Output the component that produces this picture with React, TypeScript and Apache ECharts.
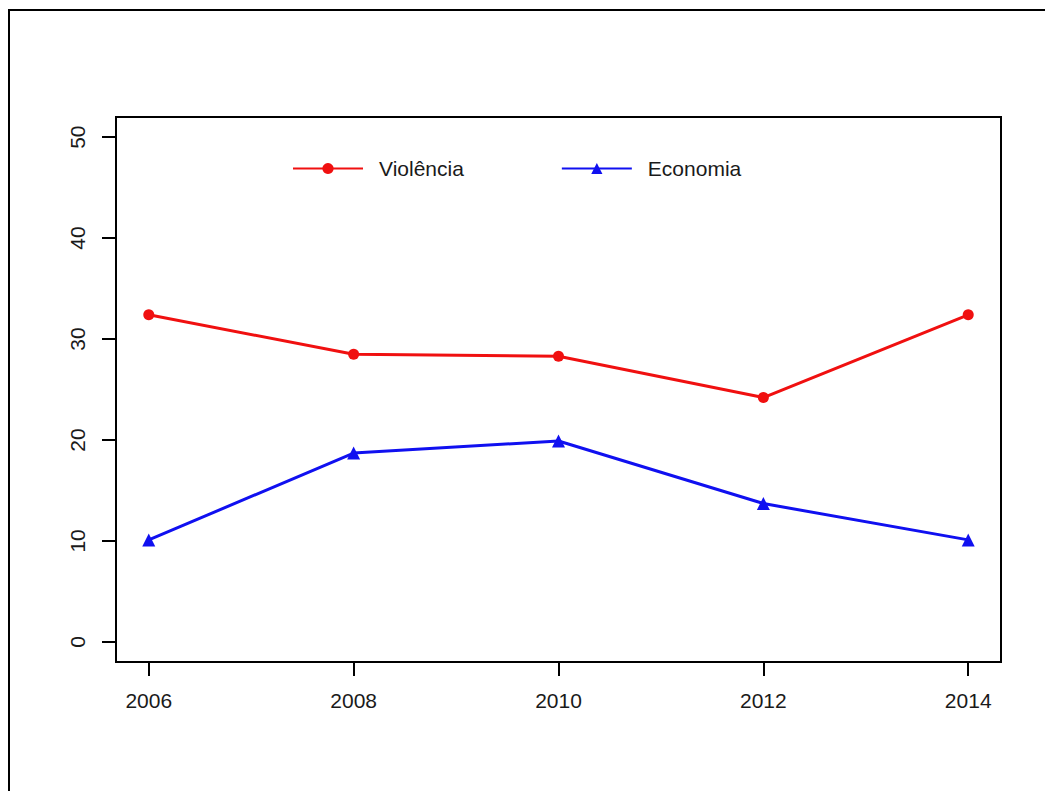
import React, { useEffect, useRef } from "react";
import * as echarts from "echarts";

const years = [2006, 2008, 2010, 2012, 2014];
const violencia = [32.4, 28.5, 28.3, 24.2, 32.4];
const economia = [10.1, 18.7, 19.9, 13.7, 10.1];
const yTicks = [0, 10, 20, 30, 40, 50];
const xTicks = [2006, 2008, 2010, 2012, 2014];
const seriesNames = ["Violência", "Economia"];

const FONT = "'Liberation Sans', Arial, sans-serif";

export default function App() {
  const ref = useRef<HTMLDivElement>(null);
  useEffect(() => {
    if (!ref.current) return;
    const chart = echarts.init(ref.current, null, { renderer: "svg" });
    const pairs = (vals: number[]) => years.map((y, i) => [y, vals[i]]);
    chart.setOption({
      animation: false,
      backgroundColor: "#ffffff",
      textStyle: { fontFamily: FONT },
      grid: {
        left: 116,
        top: 117,
        right: 44,
        bottom: 129,
        show: true,
        borderColor: "#000",
        borderWidth: 2,
        backgroundColor: "transparent",
      },
      legend: {
        left: 287,
        top: 153,
        padding: 5,
        itemWidth: 70,
        itemHeight: 14,
        itemGap: 97,
        data: seriesNames,
        textStyle: {
          fontFamily: FONT,
          fontSize: 21,
          color: "#1a1a1a",
          padding: [0, 0, 0, 11],
        },
      },
      xAxis: {
        type: "value",
        min: 2005.68,
        max: 2014.32,
        splitLine: { show: false },
        axisLine: { show: false, onZero: false },
        axisTick: {
          show: true,
          length: 14,
          customValues: xTicks,
          lineStyle: { color: "#000", width: 2 },
        },
        axisLabel: {
          customValues: xTicks,
          margin: 28,
          fontSize: 21,
          color: "#1a1a1a",
          fontFamily: FONT,
          formatter: (v: number) => String(v),
        },
      },
      yAxis: {
        type: "value",
        min: -2,
        max: 52,
        splitLine: { show: false },
        axisLine: { show: false, onZero: false },
        axisTick: {
          show: true,
          length: 14,
          customValues: yTicks,
          lineStyle: { color: "#000", width: 2 },
        },
        axisLabel: {
          customValues: yTicks,
          rotate: 90,
          margin: 28,
          fontSize: 21,
          color: "#1a1a1a",
          fontFamily: FONT,
          formatter: (v: number) => String(v),
        },
      },
      graphic: [
        {
          type: "rect",
          shape: { x: 9, y: 10, width: 1100, height: 1000 },
          style: { fill: "none", stroke: "#000", lineWidth: 2 },
          silent: true,
        },
      ],
      series: [
        {
          name: seriesNames[0],
          type: "line",
          data: pairs(violencia),
          symbol: "circle",
          symbolSize: 11,
          lineStyle: { color: "#f01010", width: 3 },
          itemStyle: { color: "#f01010" },
        },
        {
          name: seriesNames[1],
          type: "line",
          data: pairs(economia),
          symbol: "triangle",
          symbolSize: 13,
          lineStyle: { color: "#1010f0", width: 3 },
          itemStyle: { color: "#1010f0" },
        },
      ],
    });
    return () => chart.dispose();
  }, []);
  return (
    <div
      ref={ref}
      style={{ position: "absolute", left: 0, top: 0, width: 1045, height: 791 }}
    />
  );
}
